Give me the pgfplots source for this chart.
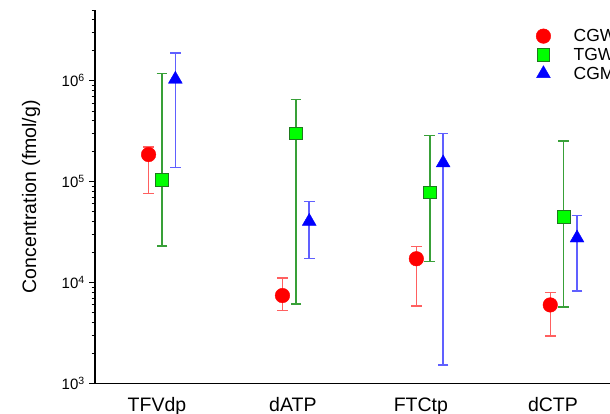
\documentclass[border=0pt]{standalone}
\usepackage{fontspec}
\setmainfont{Liberation Sans}
\usepackage{pgfplots}
\pgfplotsset{compat=1.18}

\definecolor{cgw}{HTML}{FF0000}
\definecolor{tgw}{HTML}{00FF00}
\definecolor{cgm}{HTML}{0000FF}
\definecolor{cgwbar}{HTML}{FF6060}
\definecolor{tgwbar}{HTML}{38A038}
\definecolor{cgmbar}{HTML}{6060FF}
\definecolor{tgwedge}{HTML}{1E7A1E}

% x, mean, error up, error down
\pgfplotstableread{
x    y       ep      em
-0.1 185000  35000   109000
0.9  7430    3670    2160
1.9  17200   5600    11330
2.9  6000    1960    3040
}\cgwdata
\pgfplotstableread{
x    y       ep      em
0.0  104000  1066000 80900
1.0  300000  350000  293900
2.0  78200   208800  62100
3.0  44600   206400  38900
}\tgwdata
\pgfplotstableread{
x    y       ep      em
0.1  1030000 840000  893000
1.1  40300   23400   23100
2.1  153000  145000  151470
3.1  27600   18600   19320
}\cgmdata

\begin{document}
\begin{tikzpicture}
\useasboundingbox (0,0) rectangle (610pt,414pt);
\clip (0,0) rectangle (610pt,414pt);
\begin{axis}[
  at={(95pt,30.5pt)}, anchor=south west,
  scale only axis, width=535.6pt, height=373.5pt,
  xmin=-0.5, xmax=3.5,
  ymode=log, ymin=1e3, ymax=5e6,
  ytick={1e3,1e4,1e5,1e6,1e7},
  yticklabels={10\textsuperscript{3},10\textsuperscript{4},10\textsuperscript{5},10\textsuperscript{6},10\textsuperscript{7}},
  xtick={-0.037,0.978,1.934,2.92},
  xticklabels={TFVdp,dATP,FTCtp,dCTP},
  x tick style={draw=none},
  axis x line=bottom, axis y line=left,
  axis line style={-, line width=1.2pt, black},
  tick align=outside,
  major tick length=5.7pt, minor tick length=3.3pt,
  y tick style={line width=0.9pt, black},
  yticklabel style={font=\fontsize{15}{18}\selectfont, xshift=-1pt},
  xticklabel style={font=\fontsize{19.5}{23}\selectfont, anchor=base, yshift=-22pt},
  ylabel={Concentration (fmol/g)},
  ylabel style={font=\fontsize{19.5}{23}\selectfont, at={(axis description cs:-0.1195,0.5)}, anchor=center, rotate=0},
  legend style={draw=none, fill=none, at={(axis description cs:0.816,0.957)}, anchor=north west,
    font=\fontsize{17.5}{19}\selectfont, row sep=3pt,
    nodes={inner sep=1pt}},
  legend cell align=left,
  legend image code/.code={\path (-8pt,0pt) (29pt,0pt); \draw[#1] plot coordinates {(0pt,0pt)};},
  clip=false,
]
\addplot[only marks, mark=*, mark size=7.3pt, color=cgw, mark options={draw=cgw, fill=cgw},
  error bars/.cd, y dir=both, y explicit,
  error bar style={color=cgwbar, line width=1.5pt},
  error mark options={color=cgwbar, rotate=90, mark size=5.3pt, line width=1.5pt}]
  table[x=x, y=y, y error plus=ep, y error minus=em] {\cgwdata};
\addlegendentry{CGW}
\addplot[only marks, mark=square*, mark size=6.3pt, color=tgw, mark options={draw=tgwedge, fill=tgw, line width=0.8pt},
  error bars/.cd, y dir=both, y explicit,
  error bar style={color=tgwbar, line width=1.5pt},
  error mark options={color=tgwbar, rotate=90, mark size=5.3pt, line width=1.5pt}]
  table[x=x, y=y, y error plus=ep, y error minus=em] {\tgwdata};
\addlegendentry{TGW}
\addplot[only marks, mark=triangle*, mark size=8pt, color=cgm, mark options={draw=cgm, fill=cgm},
  error bars/.cd, y dir=both, y explicit,
  error bar style={color=cgmbar, line width=1.5pt},
  error mark options={color=cgmbar, rotate=90, mark size=5.3pt, line width=1.5pt}]
  table[x=x, y=y, y error plus=ep, y error minus=em] {\cgmdata};
\addlegendentry{CGM}
\end{axis}
\end{tikzpicture}
\end{document}
